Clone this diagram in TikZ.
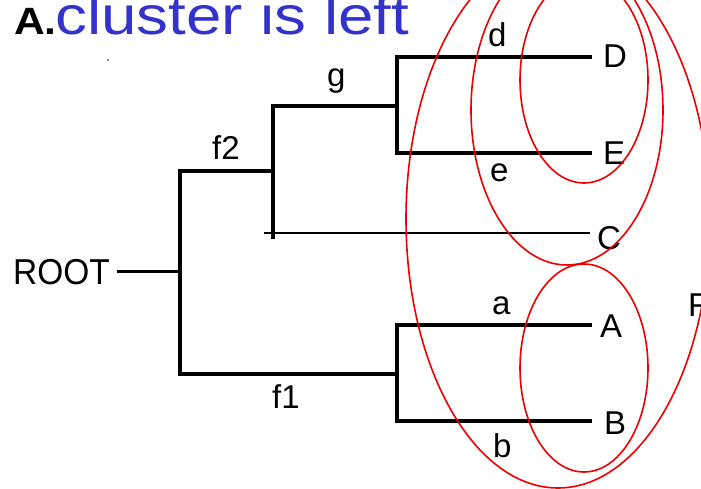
\documentclass[tikz,border=0pt]{standalone}
\usepackage{fontspec}
\setmainfont{Liberation Sans}
\definecolor{titleblue}{RGB}{51,51,204}
\definecolor{ringred}{RGB}{238,0,0}
\begin{document}
\begin{tikzpicture}[x=1pt,y=-1pt,
  lab/.style={inner sep=0pt,font=\fontsize{33}{36}\selectfont},
  branch/.style={line width=4.5pt,line cap=rect,line join=miter},
  thinbranch/.style={line width=1.5pt},
  rootline/.style={line width=3pt},
  ring/.style={draw=ringred,line width=1.6pt}]
\useasboundingbox (0,0) rectangle (701,489);
% title
\node[anchor=base west,inner sep=0pt,font=\fontsize{38}{40}\bfseries\selectfont,xscale=1.12] (tA) at (14,35) {A.};
\node[anchor=base west,inner sep=0pt,font=\fontsize{54}{58}\selectfont,text=titleblue,xscale=1.18] (title) at (55,35) {cluster is left};
\fill (108,60) circle (0.9pt);
% junction coordinates
\coordinate (rootj) at (180,271);
\coordinate (f2a) at (180,171);
\coordinate (f1a) at (180,374);
\coordinate (f2b) at (273,171);
\coordinate (gtop) at (273,106);
\coordinate (gbot) at (273,237);
\coordinate (gend) at (397,106);
\coordinate (dj) at (397,57);
\coordinate (ej) at (397,153);
\coordinate (f1b) at (397,374);
\coordinate (aj) at (397,325);
\coordinate (bj) at (397,421);
\coordinate (cstart) at (264,233);
% leaf endpoints
\coordinate (dend) at (590,57);
\coordinate (eend) at (590,153);
\coordinate (cend) at (590,233);
\coordinate (aend) at (590,325);
\coordinate (bend) at (590,421);
% labels
\node[lab,anchor=base east,font=\fontsize{36}{38}\selectfont,xscale=0.93] (root) at (110,284) {ROOT};
\node[lab,anchor=base west] (D) at (603,68) {D};
\node[lab,anchor=base west] (E) at (603,165) {E};
\node[lab,anchor=base west] (C) at (597,249) {C};
\node[lab,anchor=base west] (A) at (600,337) {A};
\node[lab,anchor=base west] (B) at (604,434) {B};
\node[lab,anchor=base west] (F) at (688,316) {F};
\node[lab,anchor=base west] (ld) at (488,47) {d};
\node[lab,anchor=base west] (le) at (490,182) {e};
\node[lab,anchor=base west] (lg) at (327,87) {g};
\node[lab,anchor=base west] (lf2) at (212,160) {f2};
\node[lab,anchor=base west] (lf1) at (272,408) {f1};
\node[lab,anchor=base west] (la) at (492,314) {a};
\node[lab,anchor=base west] (lb) at (493,457) {b};
% tree
\draw[rootline] (root.east |- rootj) ++(7,0) -- (rootj);
\draw[branch] (f2b) -- (f2a) -- (f1a) -- (f1b);
\draw[branch] (gend) -- (gtop) -- (gbot);
\draw[branch] (dend) -- (dj) -- (ej) -- (eend);
\draw[branch] (aend) -- (aj) -- (bj) -- (bend);
\draw[thinbranch] (cstart) -- (cend);
% rings
\draw[ring] (584,80) ellipse [x radius=64pt, y radius=103pt];
\draw[ring] (567,110) ellipse [x radius=96pt, y radius=155pt];
\draw[ring] (584,368) ellipse [x radius=64pt, y radius=104pt];
\draw[ring] (558,219) ellipse [x radius=152pt, y radius=269pt];
\end{tikzpicture}
\end{document}
